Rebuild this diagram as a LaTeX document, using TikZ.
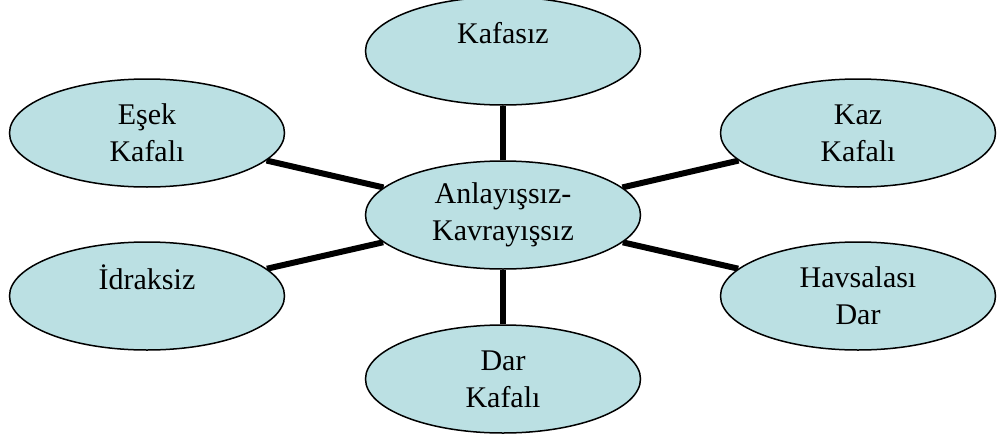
\documentclass[tikz,border=0pt]{standalone}
\usepackage{fontspec}
\setmainfont{Liberation Serif}
\usetikzlibrary{shapes.geometric}
\pgfdeclarelayer{background}
\pgfsetlayers{background,main}
\definecolor{bubble}{RGB}{187,224,227}
\tikzset{
  bub/.style={ellipse, draw=black, line width=1.5pt, fill=bubble, inner sep=0pt,
    minimum width=275pt, minimum height=108pt, align=center,
    font=\fontsize{30}{37}\selectfont},
  link/.style={line width=6pt, draw=black}
}
\begin{document}
\begin{tikzpicture}[x=1pt,y=-1pt]
\useasboundingbox (0,0) rectangle (1004,439);
\node[bub] (c) at (503,215) {Anlayışsız-\\Kavrayışsız};
\node[bub] (k) at (503,51) {Kafasız\\\mbox{}};
\node[bub] (e) at (147,133) {Eşek\\Kafalı};
\node[bub] (z) at (858,133) {Kaz\\Kafalı};
\node[bub] (i) at (147,296) {İdraksiz\\\mbox{}};
\node[bub] (h) at (858,296) {Havsalası\\Dar};
\node[bub] (d) at (503,379) {Dar\\Kafalı};
\begin{pgfonlayer}{background}
\draw[link] (c) -- (k);
\draw[link] (c) -- (e);
\draw[link] (c) -- (z);
\draw[link] (c) -- (i);
\draw[link] (c) -- (h);
\draw[link] (c) -- (d);
\end{pgfonlayer}
\end{tikzpicture}
\end{document}
